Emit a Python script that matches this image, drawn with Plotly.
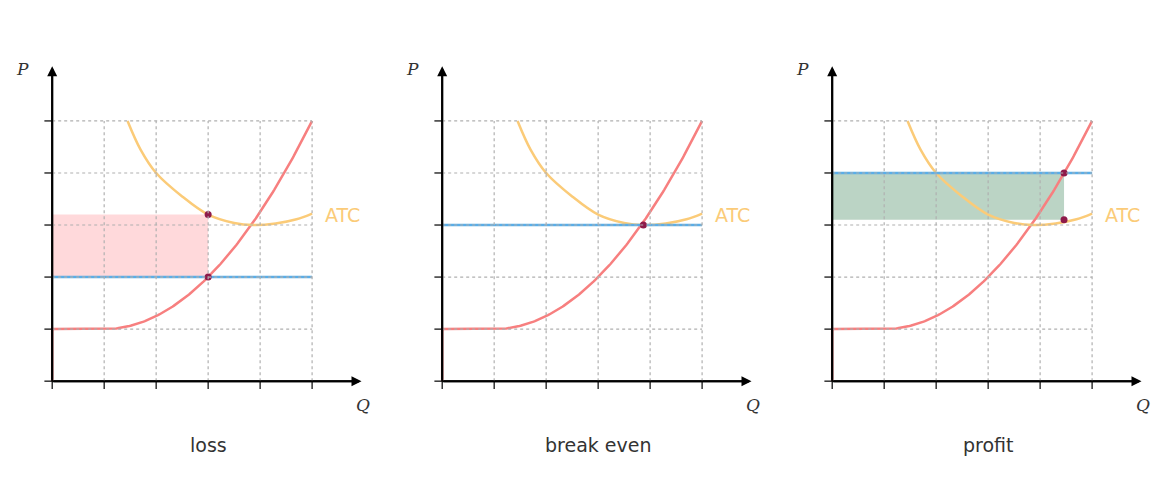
import numpy as np
import plotly.graph_objects as go

titles = ["loss", "break even", "profit"]
prices = [2, 3, 4]
q_star = [3.0, 3.87, 4.46]
atc_at_q = [3.2, 3.0, 3.1]
atc_x = [1.45, 1.7, 2.0, 2.5, 3.0, 3.5, 3.87, 4.3, 4.7, 5.0]
atc_y = [5.0, 4.45, 4.0, 3.55, 3.2, 3.04, 3.0, 3.03, 3.11, 3.22]
grid_vals = [1, 2, 3, 4, 5]
tick_vals = [0, 1, 2, 3, 4, 5]

MC_C, ATC_C, P_C, DOT_C = "#f77f7f", "#fbcb78", "#5aaee8", "#8e1a4a"
FILLS = ["rgba(255,170,175,0.45)", None, "rgba(120,170,140,0.5)"]

def mc(q):
    q = np.asarray(q, float)
    return np.where(q <= 1, 1.0, 1 + 0.25 * (q - 1) ** 2)

fig = go.Figure()
layout = dict(margin=dict(l=0, r=0, t=0, b=0), width=1162, height=484,
              plot_bgcolor="white", paper_bgcolor="white", showlegend=False)
shapes, annos = [], []
for i in range(3):
    n = "" if i == 0 else str(i + 1)
    xa, ya = "x" + n, "y" + n
    d0 = i * 390 / 1162
    layout["xaxis" + n] = dict(domain=[d0, d0 + 380 / 1162], range=[-0.85, 6.46], visible=False, fixedrange=True)
    layout["yaxis" + n] = dict(domain=[0, 1], range=[-2.13, 7.17], visible=False, fixedrange=True)
    for g in grid_vals:
        shapes.append(dict(type="line", xref=xa, yref=ya, x0=g, x1=g, y0=0, y1=5, line=dict(color="#b0b0b0", width=1.2, dash="dot")))
        shapes.append(dict(type="line", xref=xa, yref=ya, x0=0, x1=5, y0=g, y1=g, line=dict(color="#b0b0b0", width=1.2, dash="dot")))
    for t in tick_vals:
        shapes.append(dict(type="line", xref=xa, yref=ya, x0=t, x1=t, y0=0, y1=-0.15, line=dict(color="black", width=1.2)))
        shapes.append(dict(type="line", xref=xa, yref=ya, x0=-0.15, x1=0, y0=t, y1=t, line=dict(color="black", width=1.2)))
    if FILLS[i]:
        shapes.append(dict(type="rect", xref=xa, yref=ya, x0=0, x1=q_star[i], y0=prices[i], y1=atc_at_q[i],
                           fillcolor=FILLS[i], line=dict(width=0), layer="below"))
    annos.append(dict(xref=xa, yref=ya, x=5.95, y=0, ax=0, ay=0, axref=xa, ayref=ya, showarrow=True,
                      arrowhead=2, arrowsize=1, arrowwidth=2, arrowcolor="black", text=""))
    annos.append(dict(xref=xa, yref=ya, x=0, y=6.05, ax=0, ay=0, axref=xa, ayref=ya, showarrow=True,
                      arrowhead=2, arrowsize=1, arrowwidth=2, arrowcolor="black", text=""))
    annos.append(dict(xref=xa, yref=ya, x=-0.58, y=6.0, text="<i>P</i>", showarrow=False,
                      font=dict(family="DejaVu Serif", size=17, color="#333")))
    annos.append(dict(xref=xa, yref=ya, x=5.98, y=-0.46, text="<i>Q</i>", showarrow=False,
                      font=dict(family="DejaVu Serif", size=17, color="#333")))
    annos.append(dict(xref=xa, yref=ya, x=3, y=-1.23, text=titles[i], showarrow=False,
                      font=dict(family="DejaVu Sans", size=19, color="#333")))
    annos.append(dict(xref=xa, yref=ya, x=5.2, y=3.2, xanchor="left", text="ATC", showarrow=False,
                      font=dict(family="DejaVu Sans", size=19, color=ATC_C)))
    qq = np.linspace(0, 5, 200)
    fig.add_trace(go.Scatter(x=[0] + list(qq), y=[0] + list(mc(qq)), mode="lines", line=dict(color=MC_C, width=2.5), xaxis=xa, yaxis=ya))
    fig.add_trace(go.Scatter(x=atc_x, y=atc_y, mode="lines", line=dict(color=ATC_C, width=2.5, shape="spline"), xaxis=xa, yaxis=ya))
    fig.add_trace(go.Scatter(x=[0, 5], y=[prices[i]] * 2, mode="lines", line=dict(color=P_C, width=2.5), xaxis=xa, yaxis=ya))
    fig.add_trace(go.Scatter(x=[0, 0], y=[0, 6.0], mode="lines", line=dict(color="black", width=2), xaxis=xa, yaxis=ya))
    fig.add_trace(go.Scatter(x=[0, 5.9], y=[0, 0], mode="lines", line=dict(color="black", width=2), xaxis=xa, yaxis=ya))
    dx = [q_star[i]] if i == 1 else [q_star[i], q_star[i]]
    dy = [prices[i]] if i == 1 else [prices[i], atc_at_q[i]]
    fig.add_trace(go.Scatter(x=dx, y=dy, mode="markers", marker=dict(color=DOT_C, size=7), xaxis=xa, yaxis=ya))

layout["shapes"] = shapes
layout["annotations"] = annos
fig.update_layout(**layout)
fig.write_html("out.html")
